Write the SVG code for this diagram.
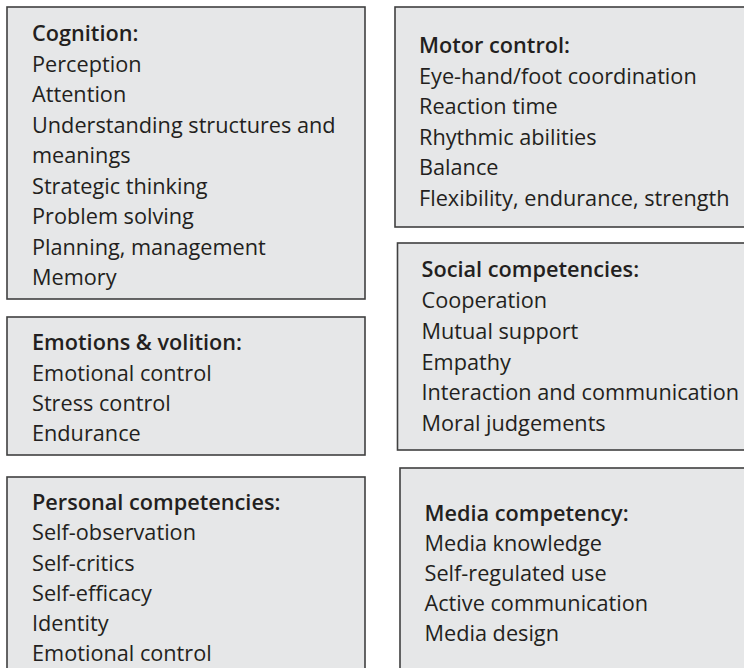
<svg xmlns="http://www.w3.org/2000/svg" width="744" height="668" viewBox="0 0 744 668">
  <style>
    .box { fill: #e6e7e8; stroke: #404040; stroke-width: 1.6; }
    text { font-family: "Open Sans", "Noto Sans", "DejaVu Sans", sans-serif; font-size: 21.7px; fill: #231f20; }
    .head { font-weight: 600; }
  </style>
  <rect width="744" height="668" fill="#ffffff"/>

  <!-- left column -->
  <g id="cognition">
    <rect class="box" x="7" y="7" width="358" height="292"/>
    <text x="32" y="41" class="head">Cognition:</text>
    <text x="32" y="71.5">Perception</text>
    <text x="32" y="102">Attention</text>
    <text x="32" y="132.5">Understanding structures and</text>
    <text x="32" y="163">meanings</text>
    <text x="32" y="193.5">Strategic thinking</text>
    <text x="32" y="224">Problem solving</text>
    <text x="32" y="254.5">Planning, management</text>
    <text x="32" y="285">Memory</text>
  </g>

  <g id="emotions">
    <rect class="box" x="7" y="317" width="358" height="138"/>
    <text x="32" y="350" class="head">Emotions &amp; volition:</text>
    <text x="32" y="380.5">Emotional control</text>
    <text x="32" y="410.5">Stress control</text>
    <text x="32" y="441">Endurance</text>
  </g>

  <g id="personal">
    <rect class="box" x="7" y="477" width="358" height="200"/>
    <text x="32" y="509.5" class="head">Personal competencies:</text>
    <text x="32" y="540">Self-observation</text>
    <text x="32" y="570.5">Self-critics</text>
    <text x="32" y="601">Self-efficacy</text>
    <text x="32" y="631">Identity</text>
    <text x="32" y="661">Emotional control</text>
  </g>

  <!-- right column -->
  <g id="motor">
    <rect class="box" x="395" y="7" width="360" height="220"/>
    <text x="419" y="53" class="head">Motor control:</text>
    <text x="419" y="83.5">Eye-hand/foot coordination</text>
    <text x="419" y="114">Reaction time</text>
    <text x="419" y="144.5">Rhythmic abilities</text>
    <text x="419" y="175">Balance</text>
    <text x="419" y="205.5">Flexibility, endurance, strength</text>
  </g>

  <g id="social">
    <rect class="box" x="397.5" y="243" width="360" height="207"/>
    <text x="421.5" y="276.5" class="head">Social competencies:</text>
    <text x="421.5" y="307.5">Cooperation</text>
    <text x="421.5" y="338.5">Mutual support</text>
    <text x="421.5" y="369.5">Empathy</text>
    <text x="421.5" y="400">Interaction and communication</text>
    <text x="421.5" y="431">Moral judgements</text>
  </g>

  <g id="media">
    <rect class="box" x="400" y="468" width="360" height="210"/>
    <text x="424.5" y="520.5" class="head">Media competency:</text>
    <text x="424.5" y="550.5">Media knowledge</text>
    <text x="424.5" y="580.5">Self-regulated use</text>
    <text x="424.5" y="610.5">Active communication</text>
    <text x="424.5" y="640.5">Media design</text>
  </g>

  <g id="connectors"/>
</svg>
